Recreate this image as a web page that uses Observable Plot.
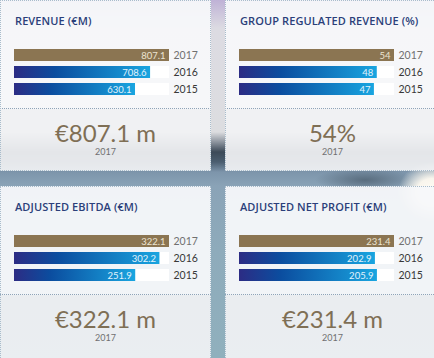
<!DOCTYPE html>
<html>
<head>
<meta charset="utf-8">
<script src="https://cdn.jsdelivr.net/npm/d3@7"></script>
<script src="https://cdn.jsdelivr.net/npm/@observablehq/plot@0.6"></script>
<style>
  html, body { margin: 0; padding: 0; }
  body {
    width: 434px; height: 358px; overflow: hidden; position: relative;
    font-family: Lato, "Open Sans", sans-serif;
    background:
      radial-gradient(ellipse 34px 30px at 432px 192px, rgba(255,252,245,1) 0%, rgba(255,250,240,0.95) 45%, rgba(255,255,255,0) 100%),
      radial-gradient(ellipse 50px 12px at 365px 180px, rgba(70,88,104,0.7) 0%, rgba(70,88,104,0) 100%),
      linear-gradient(180deg, #bfb2d6 0px, #dcdbe2 28px, #dcdde0 132px, #8c949e 142px, #3c4a58 152px, #4b5e70 162px, #7d95ab 172px, #8aa3b7 186px, #8eabbb 250px, #90b0bd 358px);
  }
  .panel { position: absolute; box-sizing: border-box; }
  .top { position: absolute; left: 0; right: 0; top: 0; height: 108px;
         background: rgba(247,248,250,0.95); border-bottom: 1px dotted #8fa4b8; }
  .bot { position: absolute; left: 0; right: 0; top: 109px; bottom: 0;
         background: rgba(241,242,244,0.93); }
  .frame { position: absolute; inset: 0; border: 1px dotted #a8bccb; }
  .title { position: absolute; left: 15px; top: 13px; font-family: "Open Sans", sans-serif;
           font-size: 11px; font-weight: 600; color: #2b3f7a; letter-spacing: 0.1px; white-space: nowrap; }
  .big { position: absolute; left: 0; right: 0; top: 119px; text-align: center;
         font-size: 24px; font-weight: 400; color: #7f6f55; line-height: 28px; }
  .yr { position: absolute; left: 0; right: 0; top: 146px; text-align: center;
        font-size: 9px; color: #707070; }
  .chart { position: absolute; left: 0; top: 40px; }
</style>
</head>
<body>
<svg width="0" height="0" style="position:absolute">
  <defs>
    <linearGradient id="blueGrad" x1="0" x2="1" y1="0" y2="0">
      <stop offset="0%" stop-color="#2c2c84"/>
      <stop offset="30%" stop-color="#0b4d9f"/>
      <stop offset="100%" stop-color="#19a5e0"/>
    </linearGradient>
  </defs>
</svg>
<script>
const titles = ["REVENUE (€M)", "GROUP REGULATED REVENUE (%)", "ADJUSTED EBITDA (€M)", "ADJUSTED NET PROFIT (€M)"];
const years = ["2017", "2016", "2015"];
const revenue = [807.1, 708.6, 630.1];
const regulated = [54, 48, 47];
const ebitda = [322.1, 302.2, 251.9];
const netProfit = [231.4, 202.9, 205.9];
const headlines = ["€807.1 m", "54%", "€322.1 m", "€231.4 m"];
const headlineYear = "2017";

const series = [revenue, regulated, ebitda, netProfit];
const boxes = [
  {left: 0, top: 0, width: 211, height: 171},
  {left: 225, top: 0, width: 215, height: 171},
  {left: 0, top: 186, width: 211, height: 178},
  {left: 225, top: 186, width: 215, height: 178}
];

series.forEach((vals, i) => {
  const b = boxes[i];
  const panel = document.createElement("div");
  panel.className = "panel";
  Object.assign(panel.style, {left: b.left + "px", top: b.top + "px", width: b.width + "px", height: b.height + "px"});
  panel.innerHTML = `<div class="top"></div><div class="bot"></div><div class="frame"></div>
    <div class="title">${titles[i]}</div>
    <div class="big">${headlines[i]}</div>
    <div class="yr">${headlineYear}</div>`;
  const data = years.map((y, k) => ({year: y, value: vals[k], label: String(vals[k])}));
  const max = d3.max(vals);
  const chart = Plot.plot({
    width: 200, height: 60,
    marginLeft: 14, marginRight: 31, marginTop: 3, marginBottom: 0,
    x: {domain: [0, max], axis: null},
    y: {domain: years, axis: null, padding: 0.32},
    style: {background: "transparent", fontFamily: "Lato, 'Open Sans', sans-serif", overflow: "visible"},
    marks: [
      Plot.barX(data, {y: "year", x: () => max, fill: "white"}),
      Plot.barX(data.filter(d => d.year === "2017"), {y: "year", x: "value", fill: "#8b7552"}),
      Plot.barX(data.filter(d => d.year !== "2017"), {y: "year", x: "value", fill: "url(#blueGrad)"}),
      Plot.text(data, {y: "year", x: "value", text: "label", textAnchor: "end", dx: -4,
        fill: d => d.year === "2017" ? "#ece4d2" : "#e2f3fc", fontSize: 9.5}),
      Plot.text(data, {y: "year", x: () => max, text: "year", textAnchor: "start", dx: 4,
        fill: d => d.year === "2017" ? "#707070" : "#383838", fontSize: 10.5, fontWeight: 400})
    ]
  });
  chart.classList.add("chart");
  panel.appendChild(chart);
  document.body.appendChild(panel);
});
</script>
</body>
</html>
